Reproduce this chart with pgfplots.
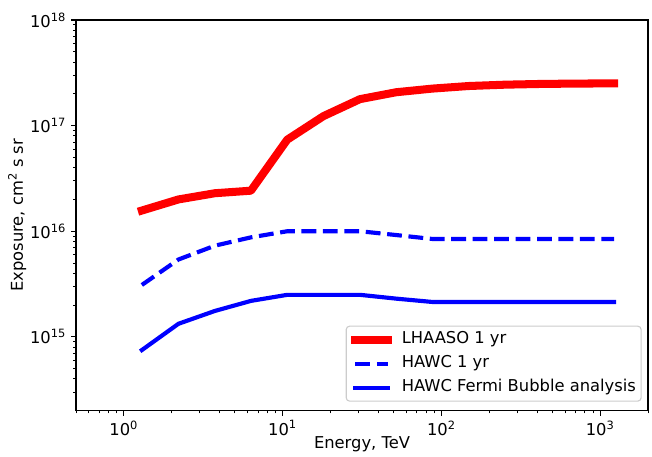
\documentclass[border=0pt]{standalone}
\usepackage{fontspec}
\setmainfont{DejaVu Sans}
\usepackage{pgfplots}
\pgfplotsset{compat=1.18}
\newdimen\px \px=0.01in

\pgfplotstableread{
x y
1.30 1.57e16
2.21 2.00e16
3.75 2.29e16
6.32 2.42e16
10.7 7.36e16
18.1 1.23e17
30.7 1.78e17
52.0 2.07e17
87.7 2.24e17
148.6 2.37e17
251.8 2.44e17
426.6 2.48e17
723 2.50e17
1224 2.51e17
}\lhaaso

\pgfplotstableread{
x y
1.30 3.10e15
2.21 5.40e15
3.75 7.30e15
6.32 8.75e15
10.7 1.00e16
18.1 1.00e16
30.7 1.00e16
52.0 9.20e15
87.7 8.45e15
148.6 8.45e15
251.8 8.45e15
426.6 8.45e15
723 8.45e15
1224 8.45e15
}\hawc

\pgfplotstableread{
x y
1.30 7.50e14
2.21 1.33e15
3.75 1.76e15
6.32 2.19e15
10.7 2.50e15
18.1 2.50e15
30.7 2.50e15
52.0 2.30e15
87.7 2.14e15
148.6 2.14e15
251.8 2.14e15
426.6 2.14e15
723 2.14e15
1224 2.14e15
}\hawcfb

\begin{document}
\begin{tikzpicture}[font=\fontsize{11.8pt}{14.2pt}\selectfont]
\begin{loglogaxis}[
  scale only axis,
  width=5.72in, height=3.907in,
  xmin=0.5, xmax=2000, ymin=2e14, ymax=1e18,
  xtick={1,10,100,1000},
  xticklabels={10\textsuperscript{0},10\textsuperscript{1},10\textsuperscript{2},10\textsuperscript{3}},
  ytick={1e15,1e16,1e17,1e18},
  yticklabels={10\textsuperscript{15},10\textsuperscript{16},10\textsuperscript{17},10\textsuperscript{18}},
  minor xtick={0.5,0.6,0.7,0.8,0.9,2,3,4,5,6,7,8,9,20,30,40,50,60,70,80,90,200,300,400,500,600,700,800,900,2000},
  minor ytick={3e14,4e14,5e14,6e14,7e14,8e14,9e14,2e15,3e15,4e15,5e15,6e15,7e15,8e15,9e15,2e16,3e16,4e16,5e16,6e16,7e16,8e16,9e16,2e17,3e17,4e17,5e17,6e17,7e17,8e17,9e17},
  tick align=outside,
  tick pos=left,
  major tick length=3.5pt,
  minor tick length=2pt,
  every major tick/.style={black, line width=0.8pt},
  every minor tick/.style={black, line width=0.6pt},
  axis line style={line width=0.8pt},
  xticklabel style={inner sep=0pt, anchor=north, yshift=-3.5pt},
  yticklabel style={inner sep=0pt, anchor=east, xshift=-3.5pt},
  xlabel={Energy, TeV},
  xlabel style={at={(axis description cs:0.5,-0.098)}, anchor=base, inner sep=0pt},
  ylabel={Exposure, cm\textsuperscript{2} s sr},
  ylabel style={at={(axis description cs:-0.093,0.5)}, anchor=base, inner sep=0pt},
  legend cell align=left,
  legend style={
    at={(axis description cs:1,0)}, anchor=south east,
    xshift=-6.3\px, yshift=9\px,
    draw=black!20, line width=0.8pt, rounded corners=2.5pt, fill=white,
    inner xsep=3.8pt, inner ysep=4.7pt,
    row sep=7.4pt, column sep=7pt,
    nodes={inner sep=0pt, text height=0.76em, text depth=0.24em, font=\fontsize{11.8pt}{14.2pt}\selectfont},
  },
  legend image code/.code={\draw[#1] (0pt,0pt) -- (23.6pt,0pt);},
]
\addplot[color={rgb,1:red,1;green,0;blue,0}, line width=5.8pt, line cap=rect, line join=round] table[x=x,y=y] {\lhaaso};
\addlegendentry{LHAASO 1 yr}
\addplot[color={rgb,1:red,0;green,0;blue,1}, line width=3pt, line cap=butt, line join=round, dash pattern=on 10.7pt off 4.8pt] table[x=x,y=y] {\hawc};
\addlegendentry{HAWC 1 yr}
\addplot[color={rgb,1:red,0;green,0;blue,1}, line width=3pt, line cap=rect, line join=round] table[x=x,y=y] {\hawcfb};
\addlegendentry{HAWC Fermi Bubble analysis}
\end{loglogaxis}
\pgfresetboundingbox
\path[use as bounding box] ([xshift=-76\px, yshift=-46.3\px]current axis.south west) rectangle ([xshift=4\px, yshift=20\px]current axis.north east);
\end{tikzpicture}
\end{document}
